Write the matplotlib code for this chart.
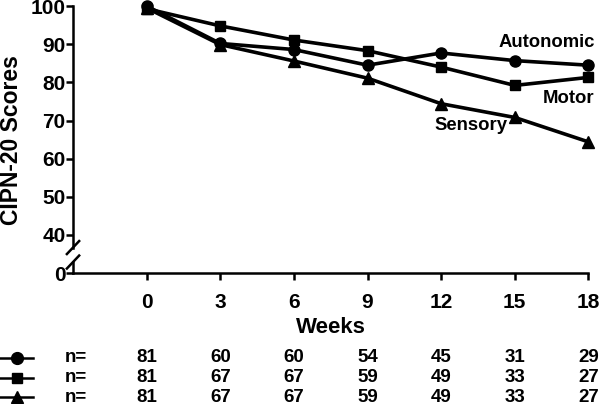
import matplotlib.pyplot as plt
import matplotlib.transforms as mtransforms
from matplotlib.lines import Line2D

plt.rcParams['font.family'] = ['Liberation Sans', 'DejaVu Sans']
plt.rcParams['font.weight'] = 'bold'
plt.rcParams['axes.labelweight'] = 'bold'

# data
weeks = [0, 3, 6, 9, 12, 15, 18]
autonomic = [100, 90.2, 88.6, 84.5, 87.7, 85.7, 84.5]
motor = [99.3, 94.8, 91.1, 88.3, 84.0, 79.2, 81.3]
sensory = [99.5, 89.9, 85.6, 81.1, 74.4, 70.8, 64.4]

n_autonomic = [81, 60, 60, 54, 45, 31, 29]
n_motor = [81, 67, 67, 59, 49, 33, 27]
n_sensory = [81, 67, 67, 59, 49, 33, 27]

ytick_vals = [30, 40, 50, 60, 70, 80, 90, 100]
ytick_labels = ['0', '40', '50', '60', '70', '80', '90', '100']

fig = plt.figure(figsize=(6.01, 4.04), dpi=100)
ax = fig.add_axes([0.1215, 0.324, 0.979 - 0.1215, 0.985 - 0.324])

# draw the three series
lw = 2.6
ax.plot(weeks, motor, color='black', lw=lw, marker='s', ms=7, clip_on=False, zorder=3)
ax.plot(weeks, sensory, color='black', lw=lw, marker='^', ms=8, clip_on=False, zorder=3)
ax.plot(weeks, autonomic, color='black', lw=lw, marker='o', ms=8, clip_on=False, zorder=4)

ax.set_xlim(-3, 18)
ax.set_ylim(30, 100)
ax.set_xticks(weeks)
ax.set_yticks(ytick_vals)
ax.set_yticklabels(ytick_labels)
ax.tick_params(axis='both', labelsize=15, width=1.8, length=5)
ax.tick_params(axis='x', pad=9)
ax.tick_params(axis='y', pad=0.5)

for side in ['top', 'right']:
    ax.spines[side].set_visible(False)
ax.spines['bottom'].set_linewidth(1.8)
ax.spines['left'].set_linewidth(1.8)
ax.spines['left'].set_bounds(36.5, 100)

# lower piece of the broken y axis and the break marks
ax.plot([-3, -3], [30, 32.8], color='black', lw=1.8, clip_on=False)
ax.plot([-3.25, -2.75], [35.0, 38.4], color='black', lw=1.8, clip_on=False)
ax.plot([-3.25, -2.75], [31.2, 34.6], color='black', lw=1.8, clip_on=False)

ax.set_ylabel('CIPN-20 Scores', fontsize=16.5, labelpad=5)
ax.set_xlabel('Weeks', fontsize=16, labelpad=4)

# series labels
ax.text(18.25, 89.2, 'Autonomic', fontsize=13.3, ha='right', va='baseline')
ax.text(18.25, 74.7, 'Motor', fontsize=13.3, ha='right', va='baseline')
ax.text(14.7, 67.4, 'Sensory', fontsize=13.3, ha='right', va='baseline')

# table of n under the chart
trans = mtransforms.blended_transform_factory(ax.transData, fig.transFigure)
rows = [(n_autonomic, 'o', 8.5), (n_motor, 's', 7.5), (n_sensory, '^', 8.5)]
row_y = [1 - 358 / 404, 1 - 378 / 404, 1 - 397 / 404]
for (counts, mk, ms), y in zip(rows, row_y):
    fig.add_artist(Line2D([0.0, 0.055], [y, y], color='black', lw=1.8,
                          transform=fig.transFigure))
    fig.add_artist(Line2D([0.0275], [y], color='black', marker=mk, ms=ms,
                          transform=fig.transFigure))
    fig.text(0.108, y, 'n=', fontsize=13.5, ha='left', va='center')
    for w, c in zip(weeks, counts):
        ax.text(w, y, str(c), fontsize=13.5, ha='center', va='center',
                transform=trans, clip_on=False)

fig.savefig('out.png', dpi=100)
